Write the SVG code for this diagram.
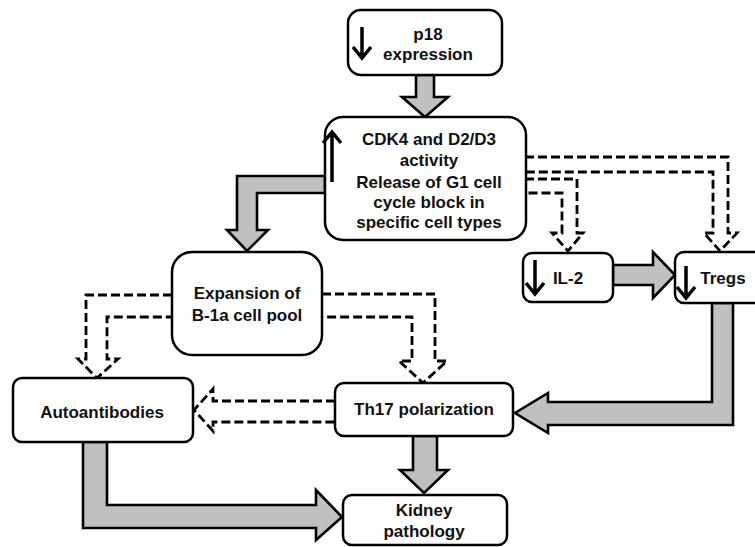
<svg xmlns="http://www.w3.org/2000/svg" width="755" height="547" viewBox="0 0 755 547">
<style>
.box{fill:#fff;stroke:#000;stroke-width:2.5}
.t{font-family:"Liberation Sans",Arial,sans-serif;font-weight:bold;font-size:17px;fill:#111;text-anchor:middle}
.big{fill:#c0c0c0;stroke:#000;stroke-width:2.6;stroke-linejoin:miter}
.dash{fill:none;stroke:#000;stroke-width:2.8;stroke-dasharray:9,4}
.sym{fill:none;stroke:#000;stroke-width:3.5;stroke-linecap:butt}
</style>
<rect width="755" height="547" fill="#fff"/>
<g id="connectors">
<path class="big" d="M416,75 V97 H402 L425,117 L448,97 H434 V75 Z"/>
<path class="big" d="M325,176 H237 V230 H227 L247,251 L268,230 H257 V193 H325 Z"/>
<path class="big" d="M613,265 H653 V252 L675,275 L653,298 V285 H613 Z"/>
<path class="big" d="M712,303 V402 H548 V393 L515,413 L548,433 V425 H733 V303 Z"/>
<path class="big" d="M413,436 V470 H400 L424,493 L448,470 H437 V436 Z"/>
<path class="big" d="M83,442 V528 H316 V540 L342,517 L316,490 V505 H107 V442 Z"/>
<path class="dash" d="M172,295 H86 V359 H78 L97,378 L118,359 H107 V317 H172"/>
<path class="dash" d="M322,294 H435 V361 H447 L423,383 L399,361 H412 V317 H322"/>
<path class="dash" d="M525,157 H728 V233 H737 L720,251 L704,233 H713 V172 H525"/>
<path class="dash" d="M525,179 H577 V233 H583 L568,251 L552,233 H562 V193 H525"/>
<path class="dash" d="M335,401 H213 V389 L194,410 L213,431 V422 H335"/>
</g>
<g id="p18">
<rect class="box" x="348" y="10" width="154" height="65" rx="13"/>
<path class="sym" d="M362,27 V58 M353,47 L362,58 L371,47"/>
<text class="t" x="428" y="40">p18</text>
<text class="t" x="428" y="60">expression</text>
</g>
<g id="cdk4">
<rect class="box" x="325" y="117" width="201" height="123" rx="18"/>
<path class="sym" d="M332,182 V132 M323,143 L332,132 L341,143"/>
<text class="t" x="429" y="145">CDK4 and D2/D3</text>
<text class="t" x="429" y="166">activity</text>
<text class="t" x="429" y="188">Release of G1 cell</text>
<text class="t" x="429" y="208">cycle block in</text>
<text class="t" x="429" y="228">specific cell types</text>
</g>
<g id="expansion">
<rect class="box" x="172" y="252" width="150" height="103" rx="20"/>
<text class="t" x="247" y="299">Expansion of</text>
<text class="t" x="247" y="321">B-1a cell pool</text>
</g>
<g id="il2">
<rect class="box" x="523" y="253" width="90" height="49" rx="9"/>
<path class="sym" d="M535,260 V294 M526,283 L535,294 L544,283"/>
<text class="t" x="568" y="284">IL-2</text>
</g>
<g id="tregs">
<rect class="box" x="675" y="252" width="95" height="51" rx="9"/>
<path class="sym" d="M686,266 V298 M677,287 L686,298 L695,287"/>
<text class="t" x="723" y="284">Tregs</text>
</g>
<g id="autoantibodies">
<rect class="box" x="13" y="378" width="180" height="64" rx="9"/>
<text class="t" x="102" y="418">Autoantibodies</text>
</g>
<g id="th17">
<rect class="box" x="335" y="383" width="178" height="53" rx="9"/>
<text class="t" x="424" y="415">Th17 polarization</text>
</g>
<g id="kidney">
<rect class="box" x="343" y="495" width="164" height="50" rx="9"/>
<text class="t" x="424" y="516">Kidney</text>
<text class="t" x="424" y="537">pathology</text>
</g>
</svg>
